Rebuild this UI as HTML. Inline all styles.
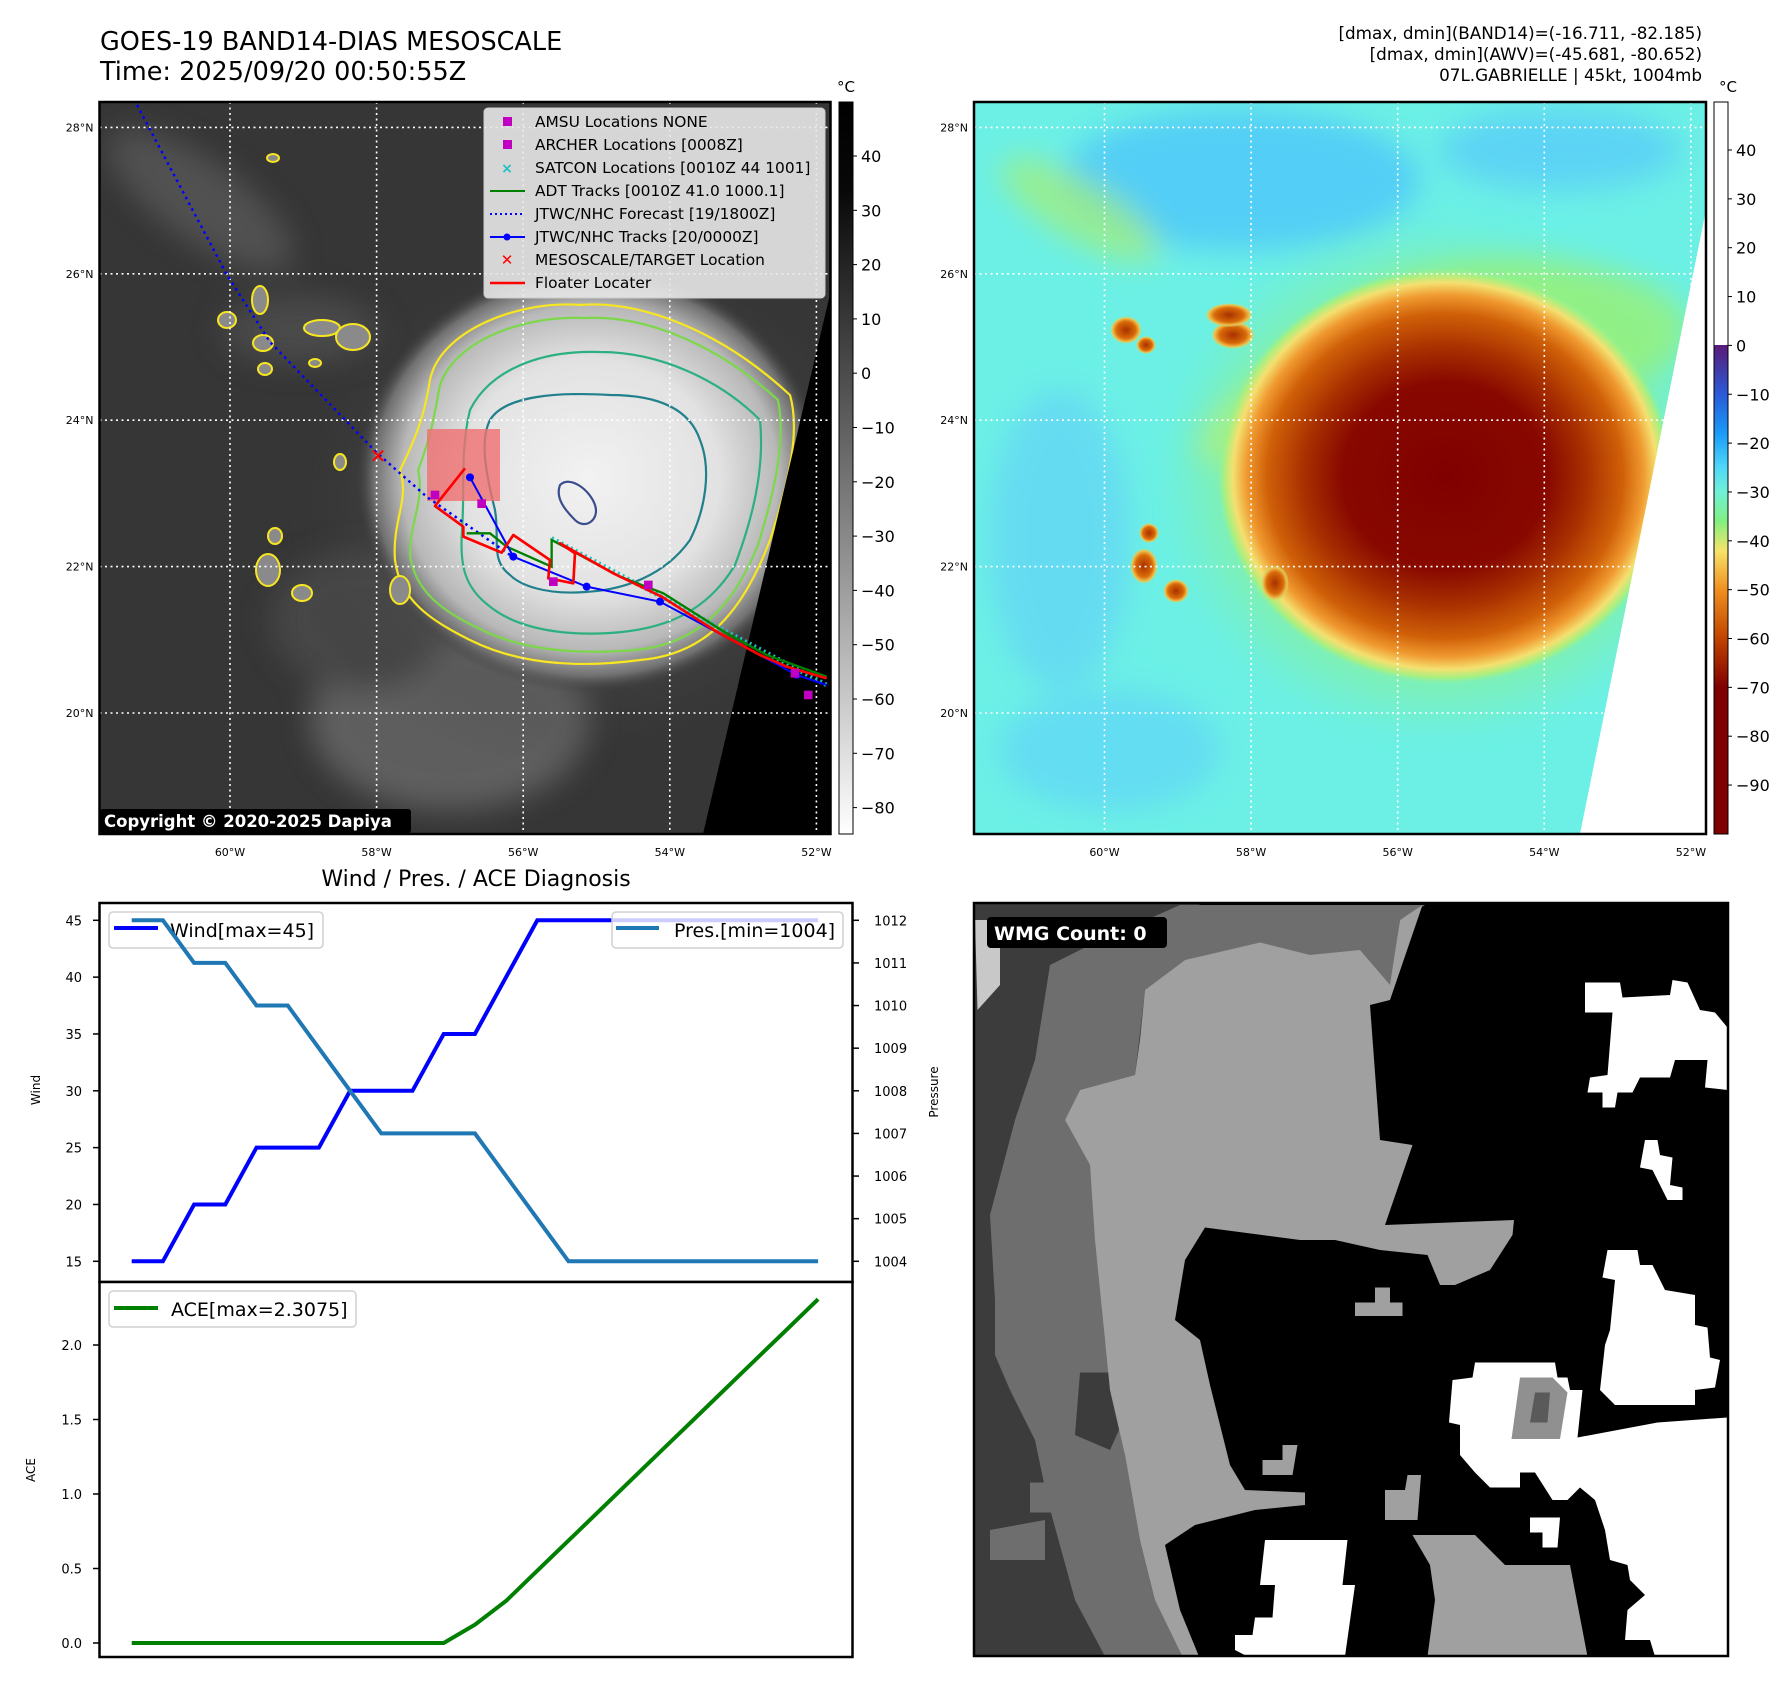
<!DOCTYPE html>
<html><head><meta charset="utf-8">
<style>
html,body{margin:0;padding:0;background:#fff;}
svg text{font-family:"DejaVu Sans","Liberation Sans",sans-serif;}
</style></head>
<body>
<svg id="fig" width="1792" height="1690" viewBox="0 0 1792 1690" xmlns="http://www.w3.org/2000/svg">
<defs>
  <clipPath id="clipL"><rect x="99.5" y="102" width="731" height="732"/></clipPath>
  <clipPath id="clipR"><rect x="974" y="102" width="732" height="732"/></clipPath>
  <clipPath id="clipB"><rect x="974" y="903" width="754" height="753"/></clipPath>
  <radialGradient id="stormGray" cx="0.5" cy="0.5" r="0.5">
    <stop offset="0" stop-color="#f2f2f2"/>
    <stop offset="0.55" stop-color="#e2e2e2"/>
    <stop offset="0.8" stop-color="#b8b8b8"/>
    <stop offset="0.92" stop-color="#707070"/>
    <stop offset="1" stop-color="#3a3a3a" stop-opacity="0"/>
  </radialGradient>
  <radialGradient id="haze" cx="0.5" cy="0.5" r="0.5">
    <stop offset="0" stop-color="#8a8a8a" stop-opacity="0.8"/>
    <stop offset="1" stop-color="#3a3a3a" stop-opacity="0"/>
  </radialGradient>
  <radialGradient id="stormCol" cx="0.5" cy="0.5" r="0.5">
    <stop offset="0" stop-color="#800000"/>
    <stop offset="0.45" stop-color="#880800"/>
    <stop offset="0.62" stop-color="#a83000"/>
    <stop offset="0.78" stop-color="#d06008"/>
    <stop offset="0.87" stop-color="#f09a30"/>
    <stop offset="0.93" stop-color="#f4e070"/>
    <stop offset="0.97" stop-color="#a8f080"/>
    <stop offset="1" stop-color="#8ff0a0" stop-opacity="0"/>
  </radialGradient>
  <radialGradient id="greenHalo" cx="0.5" cy="0.5" r="0.5">
    <stop offset="0.6" stop-color="#a0f070" stop-opacity="0.9"/>
    <stop offset="1" stop-color="#90f070" stop-opacity="0"/>
  </radialGradient>
  <radialGradient id="orangeCell" cx="0.5" cy="0.5" r="0.5">
    <stop offset="0" stop-color="#a83000"/>
    <stop offset="0.6" stop-color="#d86a08"/>
    <stop offset="0.85" stop-color="#f0c050"/>
    <stop offset="1" stop-color="#a0f080" stop-opacity="0"/>
  </radialGradient>
  <linearGradient id="cbarGray" x1="0" y1="0" x2="0" y2="1">
    <stop offset="0" stop-color="#000"/>
    <stop offset="0.12" stop-color="#080808"/>
    <stop offset="0.6" stop-color="#8a8a8a"/>
    <stop offset="1" stop-color="#fff"/>
  </linearGradient>
  <linearGradient id="cbarCol" gradientUnits="userSpaceOnUse" x1="0" y1="345" x2="0" y2="834">
    <stop offset="0" stop-color="#5a1a78"/>
    <stop offset="0.1" stop-color="#2a5ad8"/>
    <stop offset="0.18" stop-color="#1a9af8"/>
    <stop offset="0.25" stop-color="#50d8f8"/>
    <stop offset="0.3" stop-color="#70f0d8"/>
    <stop offset="0.36" stop-color="#80f080"/>
    <stop offset="0.42" stop-color="#f6e46a"/>
    <stop offset="0.5" stop-color="#f09020"/>
    <stop offset="0.6" stop-color="#c04400"/>
    <stop offset="0.7" stop-color="#800000"/>
    <stop offset="1" stop-color="#800000"/>
  </linearGradient>
  <filter id="blur15"><feGaussianBlur stdDeviation="15"/></filter>
</defs>

<!-- ============ TITLES ============ -->
<text x="100" y="50" font-size="25.5" fill="#000">GOES-19 BAND14-DIAS MESOSCALE</text>
<text x="100" y="80" font-size="25.5" fill="#000">Time: 2025/09/20 00:50:55Z</text>
<text x="1702" y="39" font-size="16.8" text-anchor="end">[dmax, dmin](BAND14)=(-16.711, -82.185)</text>
<text x="1702" y="60" font-size="16.8" text-anchor="end">[dmax, dmin](AWV)=(-45.681, -80.652)</text>
<text x="1702" y="81" font-size="16.8" text-anchor="end">07L.GABRIELLE | 45kt, 1004mb</text>

<!-- ============ LEFT MAP ============ -->
<g clip-path="url(#clipL)">
  <rect x="99.5" y="102" width="731" height="732" fill="#363636"/>
  <g filter="url(#blur15)" opacity="0.8">
    <ellipse cx="200" cy="200" rx="110" ry="40" fill="#585858" transform="rotate(35 200 200)"/>
    <ellipse cx="300" cy="330" rx="80" ry="35" fill="#505050"/>
    <ellipse cx="450" cy="720" rx="140" ry="90" fill="#6a6a6a"/>
    <ellipse cx="360" cy="620" rx="90" ry="70" fill="#4c4c4c"/>
  </g>
  <ellipse cx="590" cy="500" rx="310" ry="270" fill="url(#haze)"/>
  <ellipse cx="590" cy="478" rx="235" ry="215" fill="url(#stormGray)"/>
  <g fill="none" stroke-width="2.2" stroke-linejoin="round">
    <path stroke="#f8e620" d="M430,380 C440,330 520,300 580,305 C640,300 720,330 790,395 C800,430 790,480 770,540 C740,620 700,655 640,660 C580,668 520,665 470,640 C430,620 400,600 395,560 C392,520 410,500 400,470 C420,430 425,410 430,380 Z"/>
    <path stroke="#7cd84a" d="M440,385 C455,340 525,315 585,318 C640,315 712,340 778,400 C786,440 775,490 758,545 C730,615 690,645 635,650 C575,655 520,650 478,628 C440,610 415,590 410,555 C410,520 425,500 418,470 C432,435 435,410 440,385 Z"/>
    <path stroke="#2cb080" d="M470,410 C490,370 540,350 600,352 C660,352 720,380 760,420 C765,470 752,520 735,565 C705,615 660,630 610,633 C560,636 515,628 488,605 C462,585 460,560 462,530 C465,490 460,450 470,410 Z"/>
    <path stroke="#21808c" d="M490,420 C505,395 560,392 610,395 C660,395 690,410 700,440 C712,470 705,510 690,540 C665,575 625,590 585,592 C545,595 520,585 510,575 C490,560 500,540 495,510 C485,470 480,440 490,420 Z"/>
    <path stroke="#3b4d8c" d="M560,485 C570,475 590,490 595,505 C600,520 585,530 575,520 C565,510 555,498 560,485 Z"/>
  </g>
  <g fill="#8a8a8a" stroke="#f8e620" stroke-width="2">
    <ellipse cx="260" cy="300" rx="8" ry="14"/>
    <ellipse cx="227" cy="320" rx="9" ry="8"/>
    <ellipse cx="263" cy="343" rx="10" ry="8"/>
    <ellipse cx="265" cy="369" rx="7" ry="6"/>
    <ellipse cx="322" cy="328" rx="18" ry="8"/>
    <ellipse cx="353" cy="337" rx="17" ry="13"/>
    <ellipse cx="315" cy="363" rx="6" ry="4"/>
    <ellipse cx="340" cy="462" rx="6" ry="8"/>
    <ellipse cx="275" cy="536" rx="7" ry="8"/>
    <ellipse cx="268" cy="570" rx="12" ry="16"/>
    <ellipse cx="302" cy="593" rx="10" ry="8"/>
    <ellipse cx="400" cy="590" rx="10" ry="14"/>
    <ellipse cx="273" cy="158" rx="6" ry="4"/>
  </g>
  <polygon points="831,290 831,834 703,834" fill="#000"/>
  <g id="gridL" stroke="#fff" stroke-width="1.6" stroke-dasharray="2 3.5" fill="none"></g>
  <rect x="427" y="429" width="73" height="72" fill="#f07070" opacity="0.8"/>
  <polyline points="137,105 227,275 270,342 377,453 427,497 513,557" fill="none" stroke="#0000ff" stroke-width="2.5" stroke-dasharray="2.5 4"/>
  <g transform="translate(380,380) scale(0.3333)">
    <g stroke="#20c0c0" fill="none">
      <path d="M515,475 L1340,915" stroke-dasharray="6 10" stroke-width="14"/>
    </g>
    <polyline points="260,460 330,460 380,500 515,560 515,480 720,590 850,640 1040,760 1160,825 1340,890" fill="none" stroke="#008000" stroke-width="7"/>
    <polyline points="270,292 400,530 620,620 840,665 1250,885 1340,915" fill="none" stroke="#0000ff" stroke-width="6"/>
    <g fill="#0000ff">
      <circle cx="270" cy="292" r="12"/><circle cx="400" cy="530" r="12"/><circle cx="620" cy="620" r="12"/><circle cx="840" cy="665" r="12"/><circle cx="1250" cy="885" r="12"/>
    </g>
    <polyline points="255,265 165,378 250,440 250,470 365,518 400,465 510,540 505,595 580,610 585,520 540,490 700,580 845,650 1010,755 1140,825 1220,860 1340,895" fill="none" stroke="#ff0000" stroke-width="8" stroke-linejoin="round"/>
    <g fill="#c000c0">
      <rect x="152" y="332" width="26" height="26"/><rect x="292" y="358" width="26" height="26"/><rect x="507" y="592" width="26" height="26"/><rect x="792" y="602" width="26" height="26"/><rect x="1232" y="867" width="26" height="26"/><rect x="1272" y="932" width="26" height="26"/>
    </g>
  </g>
  <text x="378" y="463" font-size="20" font-weight="bold" fill="#ff0000" text-anchor="middle">✕</text>
</g>
<rect x="99.5" y="102" width="731" height="732" fill="none" stroke="#000" stroke-width="2.5"/>
<g id="labelsL" font-size="11" fill="#000"></g>

<g>
  <rect x="484" y="108" width="341" height="190" rx="4" fill="#e8e8e8" fill-opacity="0.9" stroke="#ccc"/>
  <g font-size="15.4" fill="#000">
    <rect x="503" y="117" width="9" height="9" fill="#c000c0"/><text x="535" y="127">AMSU Locations NONE</text>
    <rect x="503" y="140" width="9" height="9" fill="#c000c0"/><text x="535" y="150">ARCHER Locations [0008Z]</text>
    <text x="507" y="173" font-size="14" fill="#20c0c0" text-anchor="middle" font-weight="bold">×</text><text x="535" y="173">SATCON Locations [0010Z 44 1001]</text>
    <line x1="490" y1="191" x2="525" y2="191" stroke="#008000" stroke-width="2"/><text x="535" y="196">ADT Tracks [0010Z 41.0 1000.1]</text>
    <line x1="490" y1="214" x2="525" y2="214" stroke="#0000ff" stroke-width="2" stroke-dasharray="2 3"/><text x="535" y="219">JTWC/NHC Forecast [19/1800Z]</text>
    <line x1="490" y1="237" x2="525" y2="237" stroke="#0000ff" stroke-width="2"/><circle cx="507" cy="237" r="3.5" fill="#0000ff"/><text x="535" y="242">JTWC/NHC Tracks [20/0000Z]</text>
    <text x="507" y="265" font-size="15" fill="#ff0000" text-anchor="middle" font-weight="bold">✕</text><text x="535" y="265">MESOSCALE/TARGET Location</text>
    <line x1="490" y1="283" x2="525" y2="283" stroke="#ff0000" stroke-width="2.5"/><text x="535" y="288">Floater Locater</text>
  </g>
</g>
<g>
  <rect x="100" y="809" width="311" height="24" rx="3" fill="#000"/>
  <text x="104" y="827" font-size="16.5" font-weight="bold" fill="#fff">Copyright © 2020-2025 Dapiya</text>
</g>
<g>
  <rect x="839" y="102" width="14" height="732" fill="url(#cbarGray)" stroke="#000" stroke-width="1"/>
  <text x="846" y="92" font-size="15" text-anchor="middle">°C</text>
  <g id="cbarLTicks" font-size="16"></g>
</g>

<!-- ============ RIGHT MAP ============ -->
<g clip-path="url(#clipR)">
  <rect x="974" y="102" width="732" height="732" fill="#6cf0e6"/>
  <g filter="url(#blur15)">
    <ellipse cx="1240" cy="180" rx="180" ry="70" fill="#50c8f8" opacity="0.85"/>
    <ellipse cx="1560" cy="150" rx="120" ry="40" fill="#58ccf8" opacity="0.8"/>
    <ellipse cx="1060" cy="540" rx="70" ry="150" fill="#64d6f4" opacity="0.8"/>
    <ellipse cx="1110" cy="750" rx="110" ry="60" fill="#60d4f6" opacity="0.7"/>
    <ellipse cx="1080" cy="210" rx="90" ry="30" fill="#a8ee70" opacity="0.7" transform="rotate(30 1080 210)"/>
    <ellipse cx="1520" cy="330" rx="170" ry="70" fill="#98f078" opacity="0.8"/>
    <ellipse cx="1330" cy="380" rx="150" ry="40" fill="#c8f070" opacity="0.7" transform="rotate(-30 1330 380)"/>
  </g>
  <ellipse cx="1440" cy="480" rx="280" ry="260" fill="url(#greenHalo)" opacity="0.8" filter="url(#blur15)"/>
  <ellipse cx="1445" cy="476" rx="228" ry="208" fill="url(#stormCol)"/>
  <g>
    <ellipse cx="1126" cy="330" rx="16" ry="14" fill="url(#orangeCell)"/>
    <ellipse cx="1233" cy="335" rx="22" ry="14" fill="url(#orangeCell)"/>
    <ellipse cx="1229" cy="315" rx="24" ry="12" fill="url(#orangeCell)"/>
    <ellipse cx="1146" cy="345" rx="10" ry="9" fill="url(#orangeCell)"/>
    <ellipse cx="1149" cy="533" rx="10" ry="10" fill="url(#orangeCell)"/>
    <ellipse cx="1144" cy="566" rx="14" ry="18" fill="url(#orangeCell)"/>
    <ellipse cx="1176" cy="591" rx="13" ry="12" fill="url(#orangeCell)"/>
    <ellipse cx="1275" cy="583" rx="14" ry="18" fill="url(#orangeCell)"/>
  </g>
  <polygon points="1706,210 1706,834 1580,834" fill="#fff"/>
  <g id="gridR" stroke="#fff" stroke-width="1.6" stroke-dasharray="2 3.5" fill="none"></g>
</g>
<rect x="974" y="102" width="732" height="732" fill="none" stroke="#000" stroke-width="2.5"/>
<g id="labelsR" font-size="11" fill="#000"></g>
<g>
  <rect x="1714" y="102" width="14" height="243" fill="#fff"/>
  <rect x="1714" y="345" width="14" height="489" fill="url(#cbarCol)"/>
  <rect x="1714" y="102" width="14" height="732" fill="none" stroke="#000" stroke-width="1"/>
  <text x="1728" y="92" font-size="15" text-anchor="middle">°C</text>
  <g id="cbarRTicks" font-size="16"></g>
</g>

<!-- ============ BOTTOM LEFT CHART ============ -->
<text x="476" y="886" font-size="22" text-anchor="middle">Wind / Pres. / ACE Diagnosis</text>
<g id="chart"></g>

<!-- ============ BOTTOM RIGHT PANEL ============ -->
<g clip-path="url(#clipB)">
  <g transform="translate(960,890) scale(0.5)">
    <rect x="28" y="25" width="1510" height="1508" fill="#000"/>
    <polygon fill="#3c3c3c" points="28,25 480,25 420,300 330,700 330,1130 440,1533 28,1533"/>
    <polygon fill="#c8c8c8" points="30,60 80,60 80,190 35,240"/>
    <polygon fill="#6e6e6e" points="180,150 260,110 440,30 930,30 880,60 860,200 730,200 620,170 450,140 370,200 350,370 240,400 210,460 260,550 290,900 330,1130 360,1300 445,1533 290,1533 230,1420 175,1220 150,1100 100,1000 70,930 70,820 60,650 110,460 150,340"/>
    <polygon fill="#6e6e6e" points="60,1280 170,1260 170,1340 60,1340"/>
    <polygon fill="#6e6e6e" points="140,1185 210,1185 210,1245 140,1245"/>
    <polygon fill="#3c3c3c" points="240,965 345,965 345,1020 300,1120 230,1090"/>
    <polygon fill="#a0a0a0" points="370,200 450,140 600,105 700,130 800,120 860,190 880,60 925,30 860,220 820,230 840,500 905,510 850,670 1108,660 1105,690 1060,760 990,790 960,790 935,730 840,720 750,700 680,700 490,675 450,740 430,860 480,900 500,990 540,1150 570,1200 690,1205 690,1230 590,1240 470,1270 410,1310 440,1440 478,1533 445,1533 390,1420 360,1300 330,1130 300,1000 290,900 270,700 260,550 210,460 240,400 350,370 360,300"/>
    <polygon fill="#a0a0a0" points="905,1290 1030,1290 1090,1350 1220,1350 1255,1533 935,1533 950,1420 940,1350"/>
    <polygon fill="#a0a0a0" points="790,825 830,825 830,795 860,795 860,825 885,825 885,852 790,852"/>
    <polygon fill="#a0a0a0" points="605,1140 645,1140 645,1110 675,1110 665,1170 605,1170"/>
    <polygon fill="#a0a0a0" points="850,1200 890,1200 895,1170 922,1170 915,1260 850,1260"/>
    <g fill="#fff">
      <polygon points="1250,185 1320,185 1325,215 1420,210 1425,180 1455,185 1480,240 1510,245 1535,275 1535,400 1490,395 1495,340 1430,340 1420,375 1360,375 1345,405 1315,405 1310,435 1285,435 1285,405 1255,405 1260,375 1295,370 1305,245 1250,245"/>
      <polygon points="1370,500 1395,500 1400,530 1425,535 1420,590 1445,595 1445,620 1415,620 1385,560 1360,555"/>
      <polygon points="1295,720 1355,720 1360,750 1385,750 1410,800 1470,810 1470,870 1495,875 1500,935 1520,940 1510,995 1470,1000 1470,1030 1310,1030 1280,1000 1290,910 1300,880 1310,780 1285,775"/>
      <polygon points="1030,945 1190,945 1195,975 1215,975 1220,1000 1245,1000 1235,1095 1395,1065 1535,1055 1535,1533 1390,1533 1380,1500 1330,1500 1335,1440 1370,1410 1340,1380 1335,1350 1300,1340 1290,1280 1270,1220 1240,1195 1215,1220 1185,1220 1150,1165 1120,1165 1120,1195 1060,1195 1030,1165 1000,1130 1000,1070 978,1065 985,980 1025,975"/>
      <polygon points="610,1300 775,1300 765,1390 790,1390 770,1533 575,1533 550,1520 550,1490 585,1490 590,1455 625,1455 630,1390 600,1390"/>
      <polygon points="1140,1255 1200,1255 1195,1315 1165,1315 1165,1285 1140,1285"/>
    </g>
    <polygon fill="#909090" points="1120,975 1185,975 1215,1005 1200,1098 1103,1098"/>
    <polygon fill="#5a5a5a" points="1150,1005 1180,1005 1175,1065 1140,1065"/>
  </g>
</g>
<rect x="974" y="903" width="754" height="753" fill="none" stroke="#000" stroke-width="2.5"/>
<g>
  <rect x="987" y="917" width="180" height="31" rx="4" fill="#000"/>
  <text x="994" y="940" font-size="19" font-weight="bold" fill="#fff">WMG Count: 0</text>
</g>

<script>
// ---------- chart data ----------
var windValues = [15,15,20,20,25,25,25,30,30,30,35,35,40,45,45,45,45,45,45,45,45,45,45];
var presValues = [1012,1012,1011,1011,1010,1010,1009,1008,1007,1007,1007,1007,1006,1005,1004,1004,1004,1004,1004,1004,1004,1004,1004];
var aceValues = [0,0,0,0,0,0,0,0,0,0,0,0.1225,0.2825,0.485,0.6875,0.89,1.0925,1.295,1.4975,1.7,1.9025,2.105,2.3075];
var windTicks = [15,20,25,30,35,40,45];
var presTicks = [1004,1005,1006,1007,1008,1009,1010,1011,1012];
var aceTicks = [0.0,0.5,1.0,1.5,2.0];
var aceTickLabels = ["0.0","0.5","1.0","1.5","2.0"];
var latTicks = [20,22,24,26,28];
var lonTicks = [-60,-58,-56,-54,-52];
var irTicks = [40,30,20,10,0,-10,-20,-30,-40,-50,-60,-70,-80];
var wvTicks = [40,30,20,10,0,-10,-20,-30,-40,-50,-60,-70,-80,-90];

var NS = "http://www.w3.org/2000/svg";
function mk(tag, attrs, parent){
  var e = document.createElementNS(NS, tag);
  for (var k in attrs) e.setAttribute(k, attrs[k]);
  if (parent) parent.appendChild(e);
  return e;
}
var X0 = 131.7, XSTEP = 31.2;
function xIdx(i){ return X0 + i*XSTEP; }
function yWind(v){ return 1261.3 - (v-15)*(341/30); }
function yPres(v){ return 1261.3 - (v-1004)*(341/8); }
function yAce(v){ return 1643 - v*149; }
function mapX(lon, left){ return left + 130.5 + (lon+60)*73.3; }
function mapY(lat){ return 713 - (lat-20)*73.2; }

var chart = document.getElementById("chart");
var f1 = mk("rect", {x:99.5,y:903,width:753,height:379,fill:"#fff",stroke:"#000","stroke-width":2.5}, chart);


var f2 = mk("rect", {x:99.5,y:1282,width:753,height:375,fill:"#fff",stroke:"#000","stroke-width":2.5}, chart);



function pts(vals, yf){ return vals.map(function(v,i){ return xIdx(i).toFixed(1)+","+yf(v).toFixed(1); }).join(" "); }

windTicks.forEach(function(t){
  var y = yWind(t);
  mk("line",{x1:93,y1:y,x2:99.5,y2:y,stroke:"#000","stroke-width":1.5},chart);
  var tx = mk("text",{x:82,y:y+5,"font-size":13,"text-anchor":"end"},chart);
  tx.textContent = t;
  
  
});
presTicks.forEach(function(t){
  var y = yPres(t);
  mk("line",{x1:852.5,y1:y,x2:859,y2:y,stroke:"#000","stroke-width":1.5},chart);
  var tx = mk("text",{x:874,y:y+5,"font-size":13},chart);
  tx.textContent = t;
  
  
});
aceTicks.forEach(function(t,i){
  var y = yAce(t);
  mk("line",{x1:93,y1:y,x2:99.5,y2:y,stroke:"#000","stroke-width":1.5},chart);
  var tx = mk("text",{x:82,y:y+5,"font-size":13,"text-anchor":"end"},chart);
  tx.textContent = aceTickLabels[i];
  
  
});
var yl1 = mk("text",{x:0,y:0,"font-size":12,"text-anchor":"middle",transform:"translate(40,1090) rotate(-90)"},chart);
yl1.textContent = "Wind";


var yl2 = mk("text",{x:0,y:0,"font-size":12,"text-anchor":"middle",transform:"translate(938,1092) rotate(-90)"},chart);
yl2.textContent = "Pressure";


var yl3 = mk("text",{x:0,y:0,"font-size":12,"text-anchor":"middle",transform:"translate(35,1470) rotate(-90)"},chart);
yl3.textContent = "ACE";



var wl = mk("polyline",{points:pts(windValues,yWind),fill:"none",stroke:"#0000ff","stroke-width":4},chart);


var lg1 = mk("g",{},chart);


mk("rect",{x:109,y:912,width:214,height:36,rx:4,fill:"#fff","fill-opacity":0.85,stroke:"#d0d0d0","stroke-width":1.5},lg1);
mk("line",{x1:114,y1:928,x2:158,y2:928,stroke:"#0000ff","stroke-width":4},lg1);
var lt1 = mk("text",{x:170,y:937,"font-size":19},lg1); lt1.textContent = "Wind[max=45]";
var pl = mk("polyline",{points:pts(presValues,yPres),fill:"none",stroke:"#1f77b4","stroke-width":4},chart);


var lg2 = mk("g",{},chart);


mk("rect",{x:612,y:912,width:231,height:36,rx:4,fill:"#fff","fill-opacity":0.8,stroke:"#d0d0d0","stroke-width":1.5},lg2);
mk("line",{x1:616,y1:928,x2:659,y2:928,stroke:"#1f77b4","stroke-width":4},lg2);
var lt2 = mk("text",{x:674,y:937,"font-size":19},lg2); lt2.textContent = "Pres.[min=1004]";
var al = mk("polyline",{points:pts(aceValues,yAce),fill:"none",stroke:"#008000","stroke-width":4},chart);


var lg3 = mk("g",{},chart);


mk("rect",{x:109,y:1291,width:247,height:36,rx:4,fill:"#fff","fill-opacity":0.85,stroke:"#d0d0d0","stroke-width":1.5},lg3);
mk("line",{x1:114,y1:1308,x2:158,y2:1308,stroke:"#008000","stroke-width":4},lg3);
var lt3 = mk("text",{x:171,y:1316,"font-size":19},lg3); lt3.textContent = "ACE[max=2.3075]";

function gridAndLabels(gid, lid, left){
  var g = document.getElementById(gid), l = document.getElementById(lid);
  lonTicks.forEach(function(lon){
    var x = mapX(lon,left);
    mk("line",{x1:x,y1:102,x2:x,y2:834},g);
    var t = mk("text",{x:x,y:856,"text-anchor":"middle"},l);
    t.textContent = Math.abs(lon)+"°W";
    
    
  });
  latTicks.forEach(function(lat){
    var y = mapY(lat);
    mk("line",{x1:left,y1:y,x2:left+732,y2:y},g);
    var t = mk("text",{x:left-6,y:y+4,"text-anchor":"end"},l);
    t.textContent = lat+"°N";
    
    
  });
}
gridAndLabels("gridL","labelsL",99.5);
gridAndLabels("gridR","labelsR",974);

function cbarTicks(id, ticks, x, y40, per10){
  var g = document.getElementById(id);
  ticks.forEach(function(t){
    var y = y40 + (40-t)/10*per10;
    mk("line",{x1:x,y1:y,x2:x+4,y2:y,stroke:"#000","stroke-width":1},g);
    var tx = mk("text",{x:x+8,y:y+6},g);
    tx.textContent = t<0 ? "\u2212"+Math.abs(t) : t;
    
    
  });
}
cbarTicks("cbarLTicks", irTicks, 853, 156, 54.3);
cbarTicks("cbarRTicks", wvTicks, 1728, 150, 48.85);
</script>
</svg>
</body></html>
